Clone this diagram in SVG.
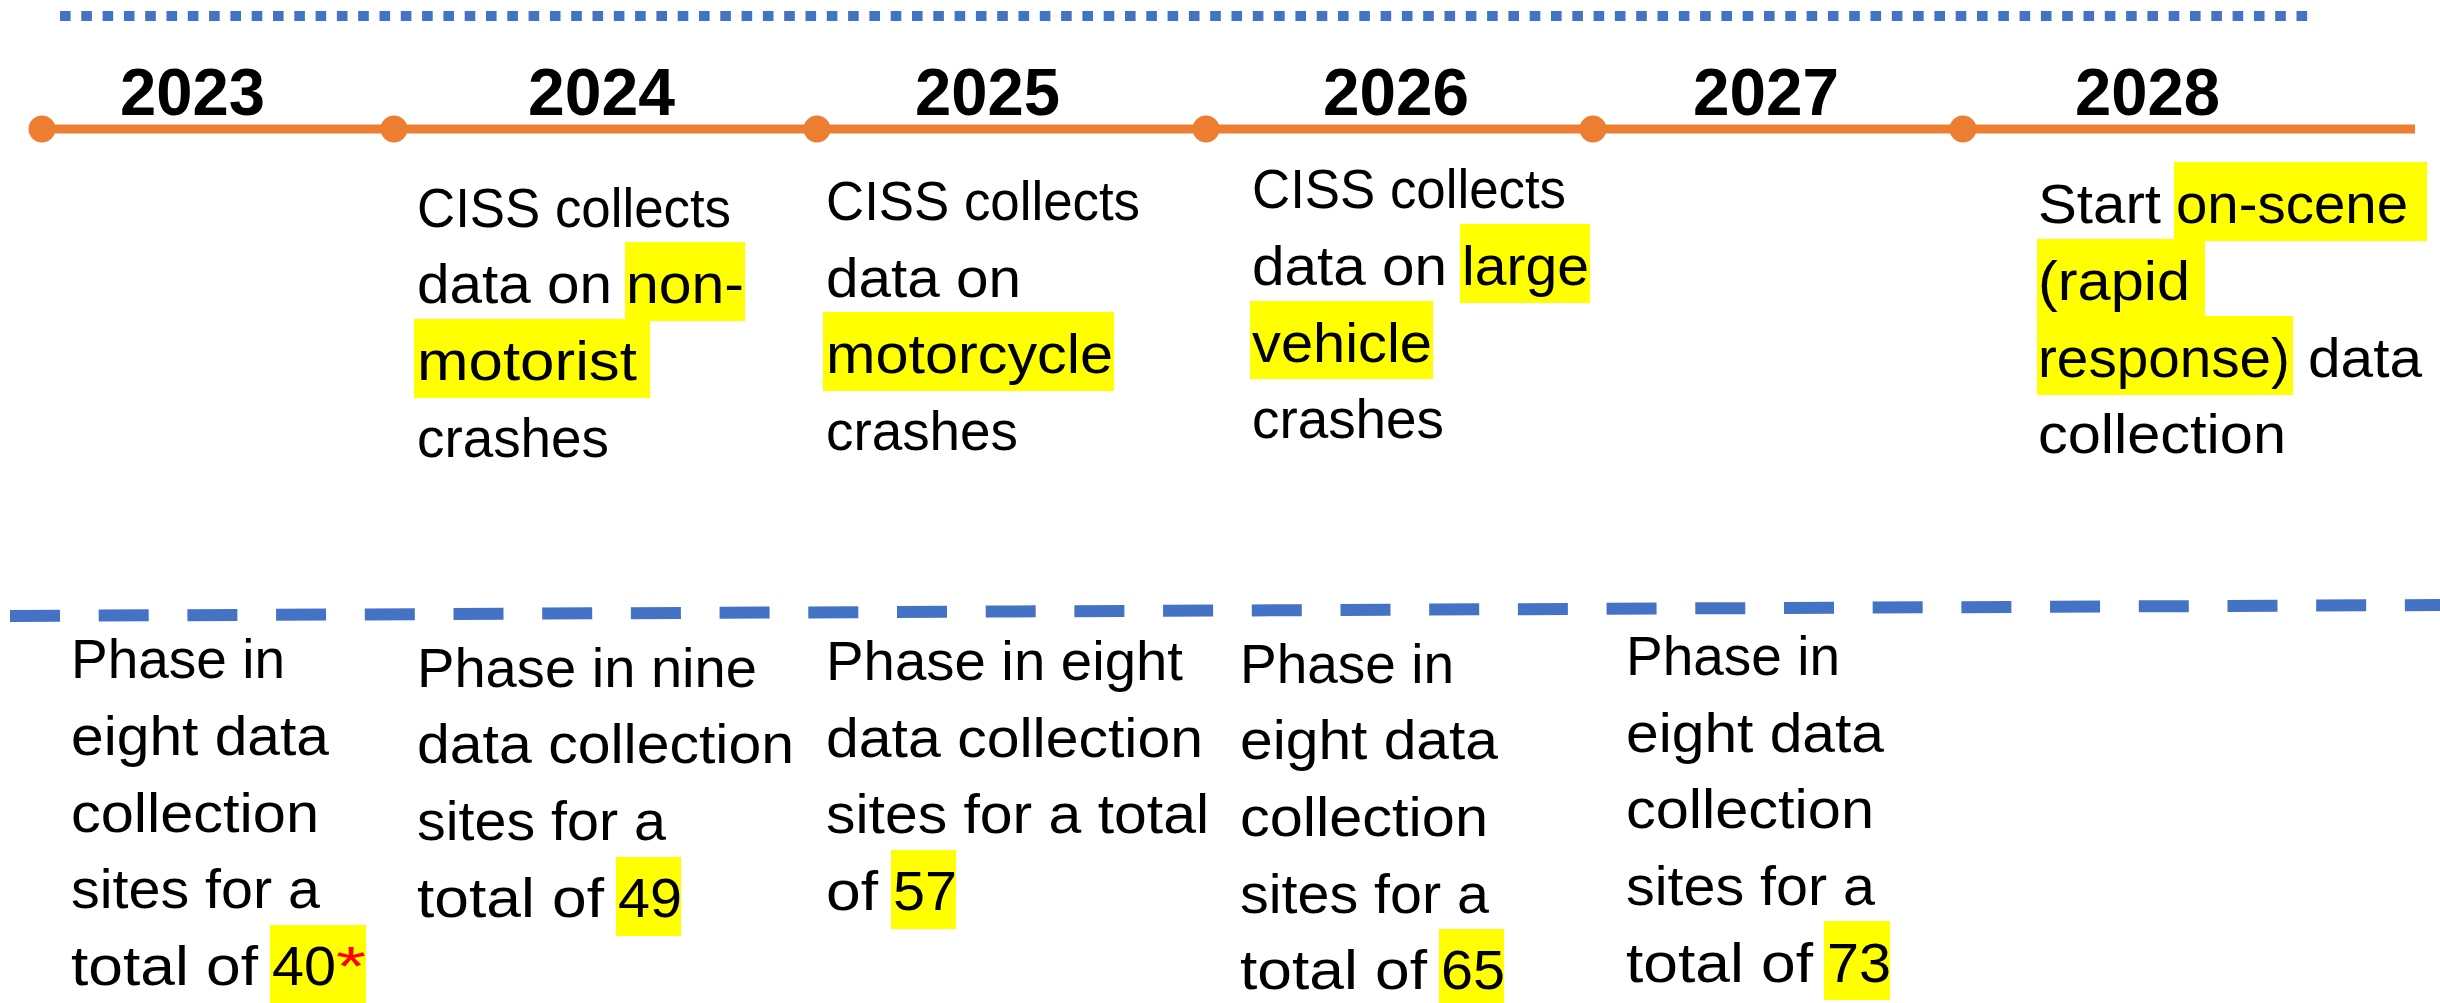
<svg xmlns="http://www.w3.org/2000/svg" width="2440" height="1003" viewBox="0 0 2440 1003">
<style>
.yr{font-family:"Liberation Sans",Arial,sans-serif;font-weight:bold;font-size:67px;fill:#000}
.t{font-family:"Liberation Sans",Arial,sans-serif;font-size:56px;fill:#000}
.hl{fill:#FFFF00}
.dot{fill:#ED7D31}
.red{fill:#FF0000}
</style>
<rect width="2440" height="1003" fill="#fff"/>
<g id="connectors">
<line x1="60" y1="16" x2="2311" y2="16" stroke="#4472C4" stroke-width="10" stroke-dasharray="10.6 10.7"/>
<line x1="42" y1="129" x2="2415" y2="129" stroke="#ED7D31" stroke-width="9"/>
<line x1="10" y1="616" x2="2440" y2="605" stroke="#4472C4" stroke-width="12" stroke-dasharray="50 38.7"/>
</g>
<g id="y2023"><circle class="dot" cx="42" cy="129" r="13.5"/><text class="yr" x="120" y="115" textLength="145" lengthAdjust="spacingAndGlyphs">2023</text></g>
<g id="y2024"><circle class="dot" cx="394" cy="129" r="13.5"/><text class="yr" x="528" y="115" textLength="147" lengthAdjust="spacingAndGlyphs">2024</text></g>
<g id="y2025"><circle class="dot" cx="817" cy="129" r="13.5"/><text class="yr" x="915" y="115" textLength="145" lengthAdjust="spacingAndGlyphs">2025</text></g>
<g id="y2026"><circle class="dot" cx="1206" cy="129" r="13.5"/><text class="yr" x="1323" y="115" textLength="146" lengthAdjust="spacingAndGlyphs">2026</text></g>
<g id="y2027"><circle class="dot" cx="1593" cy="129" r="13.5"/><text class="yr" x="1693" y="115" textLength="146" lengthAdjust="spacingAndGlyphs">2027</text></g>
<g id="y2028"><circle class="dot" cx="1963" cy="129" r="13.5"/><text class="yr" x="2075" y="115" textLength="145" lengthAdjust="spacingAndGlyphs">2028</text></g>

<g id="top2024">
<rect class="hl" x="625" y="242" width="120" height="79"/>
<rect class="hl" x="414" y="319" width="236" height="79"/>
<text class="t" x="417" y="227" textLength="314" lengthAdjust="spacingAndGlyphs">CISS collects</text>
<text class="t" x="417" y="303" textLength="195" lengthAdjust="spacingAndGlyphs">data on</text>
<text class="t" x="626" y="303" textLength="118" lengthAdjust="spacingAndGlyphs">non-</text>
<text class="t" x="417" y="380" textLength="220" lengthAdjust="spacingAndGlyphs">motorist</text>
<text class="t" x="417" y="457" textLength="192" lengthAdjust="spacingAndGlyphs">crashes</text>
</g>

<g id="top2025">
<rect class="hl" x="823" y="312" width="291" height="79"/>
<text class="t" x="826" y="220" textLength="314" lengthAdjust="spacingAndGlyphs">CISS collects</text>
<text class="t" x="826" y="297" textLength="195" lengthAdjust="spacingAndGlyphs">data on</text>
<text class="t" x="826" y="373" textLength="287" lengthAdjust="spacingAndGlyphs">motorcycle</text>
<text class="t" x="826" y="450" textLength="192" lengthAdjust="spacingAndGlyphs">crashes</text>
</g>

<g id="top2026">
<rect class="hl" x="1460" y="224" width="130" height="79"/>
<rect class="hl" x="1250" y="301" width="183" height="78"/>
<text class="t" x="1252" y="208" textLength="314" lengthAdjust="spacingAndGlyphs">CISS collects</text>
<text class="t" x="1252" y="285" textLength="195" lengthAdjust="spacingAndGlyphs">data on</text>
<text class="t" x="1462" y="285" textLength="127" lengthAdjust="spacingAndGlyphs">large</text>
<text class="t" x="1252" y="362" textLength="180" lengthAdjust="spacingAndGlyphs">vehicle</text>
<text class="t" x="1252" y="438" textLength="192" lengthAdjust="spacingAndGlyphs">crashes</text>
</g>

<g id="top2028">
<rect class="hl" x="2174" y="162" width="253" height="79"/>
<rect class="hl" x="2037" y="239" width="168" height="78"/>
<rect class="hl" x="2037" y="316" width="256" height="79"/>
<text class="t" x="2038" y="223" textLength="123" lengthAdjust="spacingAndGlyphs">Start</text>
<text class="t" x="2176" y="223" textLength="232" lengthAdjust="spacingAndGlyphs">on-scene</text>
<text class="t" x="2038" y="300" textLength="152" lengthAdjust="spacingAndGlyphs">(rapid</text>
<text class="t" x="2038" y="377" textLength="252" lengthAdjust="spacingAndGlyphs">response)</text>
<text class="t" x="2308" y="377" textLength="114" lengthAdjust="spacingAndGlyphs">data</text>
<text class="t" x="2038" y="453" textLength="248" lengthAdjust="spacingAndGlyphs">collection</text>
</g>

<g id="bot2023">
<rect class="hl" x="270" y="925" width="96" height="78"/>
<text class="t" x="71" y="678" textLength="214" lengthAdjust="spacingAndGlyphs">Phase in</text>
<text class="t" x="71" y="755" textLength="258" lengthAdjust="spacingAndGlyphs">eight data</text>
<text class="t" x="71" y="832" textLength="248" lengthAdjust="spacingAndGlyphs">collection</text>
<text class="t" x="71" y="908" textLength="249" lengthAdjust="spacingAndGlyphs">sites for a</text>
<text class="t" x="71" y="985" textLength="187" lengthAdjust="spacingAndGlyphs">total of</text>
<text class="t" x="272" y="985" textLength="64" lengthAdjust="spacingAndGlyphs">40</text>
<text class="t red" x="336" y="985" textLength="30" lengthAdjust="spacingAndGlyphs">*</text>
</g>

<g id="bot2024">
<rect class="hl" x="616" y="857" width="65" height="79"/>
<text class="t" x="417" y="687" textLength="340" lengthAdjust="spacingAndGlyphs">Phase in nine</text>
<text class="t" x="417" y="763" textLength="377" lengthAdjust="spacingAndGlyphs">data collection</text>
<text class="t" x="417" y="840" textLength="249" lengthAdjust="spacingAndGlyphs">sites for a</text>
<text class="t" x="417" y="917" textLength="187" lengthAdjust="spacingAndGlyphs">total of</text>
<text class="t" x="618" y="917" textLength="64" lengthAdjust="spacingAndGlyphs">49</text>
</g>

<g id="bot2025">
<rect class="hl" x="891" y="850" width="65" height="79"/>
<text class="t" x="826" y="680" textLength="357" lengthAdjust="spacingAndGlyphs">Phase in eight</text>
<text class="t" x="826" y="757" textLength="377" lengthAdjust="spacingAndGlyphs">data collection</text>
<text class="t" x="826" y="833" textLength="383" lengthAdjust="spacingAndGlyphs">sites for a total</text>
<text class="t" x="826" y="910" textLength="52" lengthAdjust="spacingAndGlyphs">of</text>
<text class="t" x="893" y="910" textLength="64" lengthAdjust="spacingAndGlyphs">57</text>
</g>

<g id="bot2026">
<rect class="hl" x="1439" y="929" width="65" height="74"/>
<text class="t" x="1240" y="683" textLength="214" lengthAdjust="spacingAndGlyphs">Phase in</text>
<text class="t" x="1240" y="759" textLength="258" lengthAdjust="spacingAndGlyphs">eight data</text>
<text class="t" x="1240" y="836" textLength="248" lengthAdjust="spacingAndGlyphs">collection</text>
<text class="t" x="1240" y="913" textLength="249" lengthAdjust="spacingAndGlyphs">sites for a</text>
<text class="t" x="1240" y="989" textLength="187" lengthAdjust="spacingAndGlyphs">total of</text>
<text class="t" x="1441" y="989" textLength="64" lengthAdjust="spacingAndGlyphs">65</text>
</g>

<g id="bot2027">
<rect class="hl" x="1824" y="921" width="66" height="79"/>
<text class="t" x="1626" y="675" textLength="214" lengthAdjust="spacingAndGlyphs">Phase in</text>
<text class="t" x="1626" y="752" textLength="258" lengthAdjust="spacingAndGlyphs">eight data</text>
<text class="t" x="1626" y="828" textLength="248" lengthAdjust="spacingAndGlyphs">collection</text>
<text class="t" x="1626" y="905" textLength="249" lengthAdjust="spacingAndGlyphs">sites for a</text>
<text class="t" x="1626" y="982" textLength="187" lengthAdjust="spacingAndGlyphs">total of</text>
<text class="t" x="1827" y="982" textLength="64" lengthAdjust="spacingAndGlyphs">73</text>
</g>
</svg>
